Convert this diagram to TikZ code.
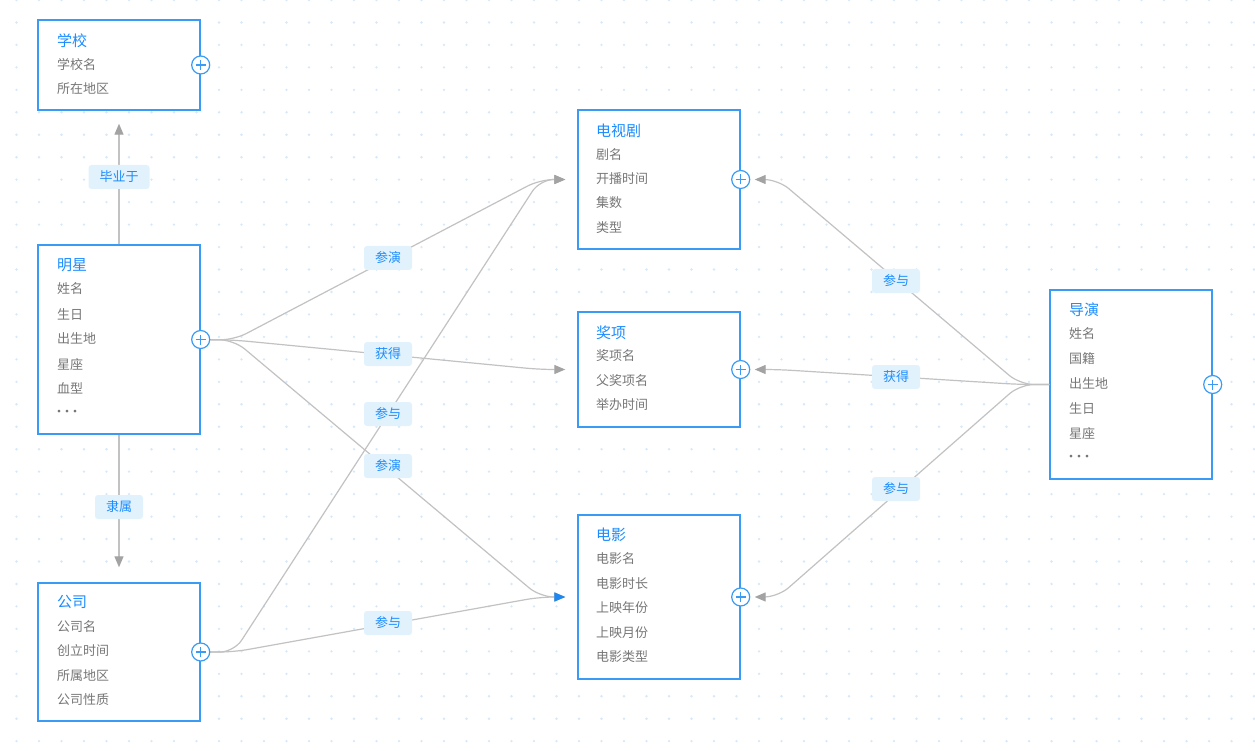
\documentclass[tikz,border=0pt]{standalone}
\usepackage{fontspec}
\setmainfont{Noto Sans CJK SC}
\usetikzlibrary{arrows.meta,calc}
\definecolor{boxblue}{HTML}{3A9BF5}
\definecolor{titleblue}{HTML}{1A8CFF}
\definecolor{fieldgray}{HTML}{777777}
\definecolor{edgegray}{HTML}{C2C2C2}
\definecolor{tipgray}{HTML}{A3A3A3}
\definecolor{labelfill}{HTML}{E2F2FD}
\definecolor{dotblue}{HTML}{D6E9FA}
\definecolor{tipblue}{HTML}{1E88F0}
\tikzset{
  entity/.style={draw=boxblue, line width=1.4pt, fill=white, minimum width=162pt, inner sep=0pt},
  ttl/.style={anchor=west, text=titleblue, font=\fontsize{15}{18}\selectfont, inner sep=0pt},
  fld/.style={anchor=west, text=fieldgray, font=\fontsize{13}{16}\selectfont, inner sep=0pt},
  plusnode/.style={circle, draw=boxblue, fill=white, line width=1.2pt, minimum size=18pt, inner sep=0pt,
    path picture={
      \draw[boxblue, line width=1.5pt] ([xshift=-5pt]path picture bounding box.center) -- ([xshift=5pt]path picture bounding box.center);
      \draw[boxblue, line width=1.5pt] ([yshift=-5pt]path picture bounding box.center) -- ([yshift=5pt]path picture bounding box.center);
    }},
  edge/.style={draw=edgegray, line width=1.2pt, rounded corners=14pt, -{Triangle[length=11pt,width=9pt,fill=tipgray,color=tipgray]}},
  edgeblue/.style={draw=edgegray, line width=1.2pt, rounded corners=14pt, -{Triangle[length=11pt,width=9pt,fill=tipblue,color=tipblue]}},
  lbl/.style={fill=labelfill, rounded corners=3pt, text=titleblue, font=\fontsize{13}{16}\selectfont, inner xsep=11pt, inner ysep=0pt, minimum height=24pt}
}
\begin{document}
\begin{tikzpicture}[x=1pt,y=-1pt]
\useasboundingbox (0,0) rectangle (1255,751);
\fill[white] (0,0) rectangle (1255,751);
% dot grid
\foreach \i in {0,...,55} {
  \foreach \j in {0,...,33} {
    \fill[dotblue] ({16.5+22.5*\i},{22.46*\j}) circle (1.3pt);
  }
}
% entity boxes
\node[entity, minimum height=90pt] (school) at (119,65) {};
\node[entity, minimum height=189pt] (star) at (119,339.5) {};
\node[entity, minimum height=138pt] (company) at (119,652) {};
\node[entity, minimum height=139pt] (tv) at (659,179.5) {};
\node[entity, minimum height=115pt] (award) at (659,369.5) {};
\node[entity, minimum height=164pt] (movie) at (659,597) {};
\node[entity, minimum height=189pt] (director) at (1131,384.5) {};

% texts
\node[ttl] (schoolT) at (57,41) {学校};
\node[fld] (school1) at (57,65) {学校名};
\node[fld] (school2) at (57,89) {所在地区};

\node[ttl] (starT) at (57,265) {明星};
\node[fld] (star1) at (57,289) {姓名};
\node[fld] (star2) at (57,314) {生日};
\node[fld] (star3) at (57,339) {出生地};
\node[fld] (star4) at (57,364) {星座};
\node[fld] (star5) at (57,388) {血型};
\node[fld] (star6) at (52.5,413) {·\kern-5pt·\kern-5pt·};

\node[ttl] (companyT) at (57,602) {公司};
\node[fld] (company1) at (57,627) {公司名};
\node[fld] (company2) at (57,651) {创立时间};
\node[fld] (company3) at (57,676) {所属地区};
\node[fld] (company4) at (57,700) {公司性质};

\node[ttl] (tvT) at (596,131) {电视剧};
\node[fld] (tv1) at (596,155) {剧名};
\node[fld] (tv2) at (596,179) {开播时间};
\node[fld] (tv3) at (596,203) {集数};
\node[fld] (tv4) at (596,228) {类型};

\node[ttl] (awardT) at (596,333) {奖项};
\node[fld] (award1) at (596,356) {奖项名};
\node[fld] (award2) at (596,381) {父奖项名};
\node[fld] (award3) at (596,405) {举办时间};

\node[ttl] (movieT) at (596,535) {电影};
\node[fld] (movie1) at (596,559) {电影名};
\node[fld] (movie2) at (596,584) {电影时长};
\node[fld] (movie3) at (596,608) {上映年份};
\node[fld] (movie4) at (596,633) {上映月份};
\node[fld] (movie5) at (596,657) {电影类型};

\node[ttl] (directorT) at (1069,310) {导演};
\node[fld] (director1) at (1069,334) {姓名};
\node[fld] (director2) at (1069,359) {国籍};
\node[fld] (director3) at (1069,384) {出生地};
\node[fld] (director4) at (1069,408) {生日};
\node[fld] (director5) at (1069,433) {星座};
\node[fld] (director6) at (1064.5,458) {·\kern-5pt·\kern-5pt·};

% bend coordinates
\coordinate (starOut) at (234,340);
\coordinate (compOut) at (234,652);
\coordinate (dirOut) at (1020,384.5);
\coordinate (tvInL) at (540,179.5);
\coordinate (awardInL) at (540,369.5);
\coordinate (movieInL) at (540,597);
\coordinate (tvInR) at (778,179.5);
\coordinate (awardInR) at (778,369.5);
\coordinate (movieInR) at (778,597);
\coordinate (tvTipL) at ($(tv.west)+(-12,0)$);
\coordinate (awardTipL) at ($(award.west)+(-12,0)$);
\coordinate (movieTipL) at ($(movie.west)+(-12,0)$);
\coordinate (tvTipR) at ($(tv.east)+(14,0)$);
\coordinate (awardTipR) at ($(award.east)+(14,0)$);
\coordinate (movieTipR) at ($(movie.east)+(14,0)$);

% vertical edges
\draw[edge, shorten >=13pt] (star.north) -- (school.south);
\draw[edge, shorten >=15pt] (star.south) -- (company.north);

% left edges
\draw[edge] (star.east) -- (starOut) -- (tvInL) -- (tvTipL);
\draw[edge] (star.east) -- (starOut) -- (awardInL) -- (awardTipL);
\draw[edge] (company.east) -- (compOut) -- (tvInL) -- (tvTipL);
\draw[edge] (company.east) -- (compOut) -- (movieInL) -- (movieTipL);
\draw[edgeblue] (star.east) -- (starOut) -- (movieInL) -- (movieTipL);

% right edges
\draw[edge] (director.west) -- (dirOut) -- (tvInR) -- (tvTipR);
\draw[edge] (director.west) -- (dirOut) -- (awardInR) -- (awardTipR);
\draw[edge] (director.west) -- (dirOut) -- (movieInR) -- (movieTipR);

% plus icons
\node[plusnode] (schoolP) at (school.east) {};
\node[plusnode] (starP) at (star.east) {};
\node[plusnode] (companyP) at (company.east) {};
\node[plusnode] (tvP) at (tv.east) {};
\node[plusnode] (awardP) at (award.east) {};
\node[plusnode] (movieP) at (movie.east) {};
\node[plusnode] (directorP) at (director.east) {};

% edge labels
\node[lbl] (l1) at (119,177) {毕业于};
\node[lbl] (l2) at (119,507) {隶属};
\node[lbl] (l3) at (388,258) {参演};
\node[lbl] (l4) at (388,354) {获得};
\node[lbl] (l5) at (388,414) {参与};
\node[lbl] (l6) at (388,466) {参演};
\node[lbl] (l7) at (388,623) {参与};
\node[lbl] (l8) at (896,281) {参与};
\node[lbl] (l9) at (896,377) {获得};
\node[lbl] (l10) at (896,489) {参与};
\end{tikzpicture}
\end{document}
